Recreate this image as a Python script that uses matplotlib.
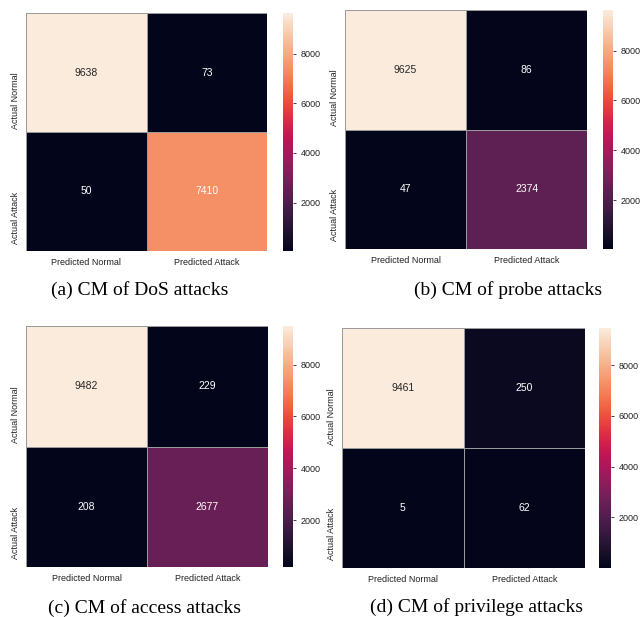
import numpy as np
import matplotlib
matplotlib.use("Agg")
import matplotlib.pyplot as plt
import seaborn as sns

# confusion matrices (rows: actual normal / attack, cols: predicted normal / attack)
cm_dos = [[9638, 73], [50, 7410]]
cm_probe = [[9625, 86], [47, 2374]]
cm_access = [[9482, 229], [208, 2677]]
cm_privilege = [[9461, 250], [5, 62]]

x_labels = ["Predicted Normal", "Predicted Attack"]
y_labels = ["Actual Normal", "Actual Attack"]
captions = ["(a) CM of DoS attacks", "(b) CM of probe attacks",
            "(c) CM of access attacks", "(d) CM of privilege attacks"]

W, H = 640, 617
fig = plt.figure(figsize=(W / 100, H / 100), dpi=100)
plt.rcParams["font.family"] = ["Liberation Sans", "DejaVu Sans"]


def px_box(x0, y0, x1, y1):
    # pixel box (top-left origin) -> figure fraction rect
    return [x0 / W, 1 - y1 / H, (x1 - x0) / W, (y1 - y0) / H]


panels = [
    (cm_dos, (26, 13, 267, 251), (283, 293), (140, 290)),
    (cm_probe, (345, 10, 587, 249), (603, 613), (508, 290)),
    (cm_access, (26, 326, 268, 567), (283, 293), (144, 608)),
    (cm_privilege, (342, 328, 585, 568), (599, 611), (477, 607)),
]

for (cm, box, cbx, cap), caption in zip(panels, captions):
    x0, y0, x1, y1 = box
    ax = fig.add_axes(px_box(x0, y0, x1, y1))
    cax = fig.add_axes(px_box(cbx[0], y0, cbx[1], y1))
    sns.heatmap(np.array(cm), annot=True, fmt="d", cmap="rocket",
                ax=ax, cbar_ax=cax, linewidths=0.7, linecolor="#9a9a9a",
                xticklabels=x_labels, yticklabels=y_labels,
                annot_kws={"fontsize": 7.5})
    ax.tick_params(length=0, labelsize=6.5, colors="#222222")
    ax.tick_params(axis="x", pad=5)
    ax.tick_params(axis="y", pad=4)
    for t in ax.get_yticklabels():
        t.set_rotation(90)
        t.set_va("top")
    cax.tick_params(labelsize=6.5, colors="#222222", length=2, width=0.6)
    cax.set_yticks([2000, 4000, 6000, 8000])
    fig.text(cap[0] / W, 1 - cap[1] / H, caption, ha="center", va="center",
             fontsize=14, family=["Liberation Serif", "DejaVu Serif"])

fig.savefig("out.png", dpi=100)
